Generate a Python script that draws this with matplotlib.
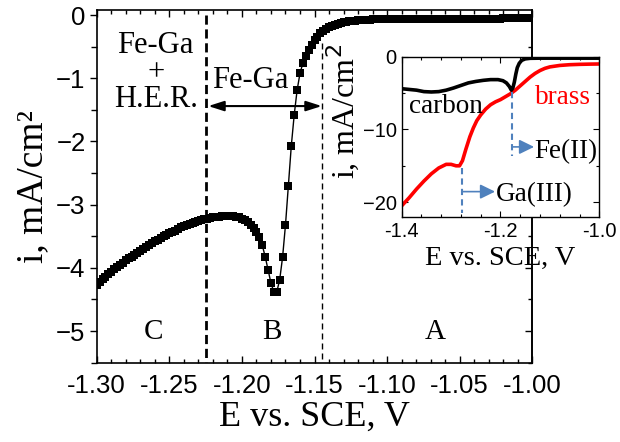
import matplotlib
matplotlib.use("Agg")
import matplotlib.pyplot as plt
from matplotlib.ticker import MultipleLocator, FormatStrFormatter

# ---------------- data (main polarization curve) ----------------
E_main = [
    -1.300, -1.298, -1.296, -1.294, -1.292, -1.290, -1.288, -1.286, -1.284, -1.282,
    -1.280, -1.278, -1.276, -1.274, -1.272, -1.270, -1.268, -1.266, -1.264, -1.262,
    -1.260, -1.258, -1.256, -1.254, -1.252, -1.250, -1.248, -1.246, -1.244, -1.242,
    -1.240, -1.238, -1.236, -1.234, -1.232, -1.230, -1.228, -1.226, -1.224, -1.222,
    -1.220, -1.218, -1.216, -1.214, -1.212, -1.210, -1.208, -1.206, -1.204, -1.202,
    -1.200, -1.198, -1.196, -1.194, -1.192, -1.190, -1.188, -1.186, -1.184, -1.182,
    -1.180, -1.178, -1.176, -1.174, -1.172, -1.170, -1.168, -1.166, -1.164, -1.162,
    -1.160, -1.158, -1.156, -1.154, -1.152, -1.150, -1.148, -1.146, -1.144, -1.142,
    -1.140, -1.138, -1.136, -1.134, -1.132, -1.130, -1.128, -1.126, -1.124, -1.122,
    -1.120, -1.118, -1.116, -1.114, -1.112, -1.110, -1.108, -1.106, -1.104, -1.102,
    -1.100, -1.098, -1.096, -1.094, -1.092, -1.090, -1.088, -1.086, -1.084, -1.082,
    -1.080, -1.078, -1.076, -1.074, -1.072, -1.070, -1.068, -1.066, -1.064, -1.062,
    -1.060, -1.058, -1.056, -1.054, -1.052, -1.050, -1.048, -1.046, -1.044, -1.042,
    -1.040, -1.038, -1.036, -1.034, -1.032, -1.030, -1.028, -1.026, -1.024, -1.022,
    -1.020, -1.018, -1.016, -1.014, -1.012, -1.010, -1.008, -1.006, -1.004, -1.002,
    -1.000,
]
i_main = [
    -4.27, -4.22, -4.18, -4.14, -4.10, -4.06, -4.02, -3.99, -3.95, -3.92,
    -3.88, -3.85, -3.82, -3.79, -3.76, -3.73, -3.70, -3.67, -3.64, -3.61,
    -3.58, -3.56, -3.53, -3.50, -3.48, -3.45, -3.43, -3.41, -3.38, -3.36,
    -3.34, -3.32, -3.30, -3.29, -3.27, -3.26, -3.24, -3.23, -3.22, -3.21,
    -3.20, -3.19, -3.19, -3.18, -3.18, -3.18, -3.18, -3.18, -3.19, -3.20,
    -3.22, -3.25, -3.28, -3.32, -3.37, -3.43, -3.51, -3.64, -3.82, -4.03,
    -4.24, -4.38, -4.38, -4.19, -3.83, -3.32, -2.70, -2.07, -1.58, -1.19,
    -0.92, -0.76, -0.64, -0.55, -0.47, -0.40, -0.34, -0.29, -0.25, -0.22,
    -0.19, -0.17, -0.15, -0.135, -0.125, -0.115, -0.105, -0.10, -0.095, -0.09,
    -0.085, -0.08, -0.08, -0.075, -0.075, -0.07, -0.07, -0.07, -0.065, -0.065,
    -0.065, -0.065, -0.06, -0.06, -0.06, -0.06, -0.06, -0.06, -0.06, -0.06,
    -0.06, -0.06, -0.06, -0.06, -0.06, -0.06, -0.06, -0.06, -0.06, -0.06,
    -0.055, -0.055, -0.055, -0.055, -0.055, -0.055, -0.055, -0.055, -0.055, -0.055,
    -0.055, -0.055, -0.055, -0.055, -0.055, -0.055, -0.055, -0.055, -0.055, -0.055,
    -0.05, -0.05, -0.05, -0.05, -0.05, -0.05, -0.05, -0.05, -0.05, -0.05,
    -0.05,
]
region_labels = ["C", "B", "A"]
region_x = [-1.261, -1.1795, -1.067]
boundaries = [-1.225, -1.145]

# ---------------- data (inset) ----------------
E_carbon = [-1.400, -1.385, -1.370, -1.355, -1.340, -1.325, -1.310, -1.295, -1.280,
            -1.265, -1.250, -1.235, -1.220, -1.205, -1.195, -1.188, -1.182, -1.178,
            -1.175, -1.172, -1.169, -1.166, -1.162, -1.157, -1.150, -1.140, -1.120,
            -1.100, -1.000]
i_carbon = [-4.4, -4.5, -4.6, -4.8, -4.85, -4.8, -4.6, -4.3, -3.95,
            -3.6, -3.4, -3.25, -3.15, -3.15, -3.3, -3.6, -4.1, -4.6,
            -4.3, -3.5, -2.4, -1.5, -0.9, -0.5, -0.3, -0.22, -0.2,
            -0.2, -0.2]
E_brass = [-1.400, -1.385, -1.370, -1.355, -1.340, -1.325, -1.310, -1.300, -1.290,
           -1.283, -1.277, -1.270, -1.262, -1.255, -1.248, -1.240, -1.230, -1.220,
           -1.210, -1.200, -1.190, -1.180, -1.170, -1.160, -1.150, -1.140, -1.130,
           -1.120, -1.110, -1.100, -1.080, -1.060, -1.040, -1.020, -1.000]
i_brass = [-20.5, -19.4, -18.2, -17.1, -16.1, -15.3, -14.8, -14.8, -15.0,
           -15.0, -14.3, -12.7, -11.0, -9.8, -8.8, -8.0, -7.2, -6.6,
           -6.2, -5.9, -5.5, -5.1, -4.6, -4.0, -3.4, -2.8, -2.3,
           -1.9, -1.6, -1.4, -1.2, -1.1, -1.05, -1.02, -1.0]

SERIF = ["Liberation Serif", "DejaVu Serif"]
SANS = ["Liberation Sans", "DejaVu Sans"]
BLUE = "#4F81BD"

plt.rcParams["font.family"] = SANS

fig = plt.figure(figsize=(6.2, 4.42), dpi=100)
ax = fig.add_axes([0.156, 0.1794, 0.7026, 0.798])

ax.plot(E_main, i_main, "-s", color="black", ms=5.4, lw=1.0, mew=0)
ax.set_xlim(-1.30, -1.00)
ax.set_ylim(-5.5, 0.08)

ax.xaxis.set_major_locator(MultipleLocator(0.05))
ax.xaxis.set_minor_locator(MultipleLocator(0.01))
ax.xaxis.set_major_formatter(FormatStrFormatter("%.2f"))
ax.yaxis.set_major_locator(MultipleLocator(1))
ax.yaxis.set_minor_locator(MultipleLocator(0.5))
ax.tick_params(axis="x", which="both", direction="in", top=True, labelsize=18.5, pad=8)
ax.tick_params(axis="x", which="major", length=5, width=1)
ax.tick_params(axis="x", which="minor", length=3, width=1)
ax.tick_params(axis="y", which="both", direction="out", labelsize=18.5, pad=3)
ax.tick_params(axis="y", which="major", length=5, width=1)
ax.tick_params(axis="y", which="minor", length=4, width=1)
for s in ax.spines.values():
    s.set_linewidth(1.2)

sec = ax.secondary_yaxis("right")
sec.yaxis.set_major_locator(MultipleLocator(1))
sec.yaxis.set_minor_locator(MultipleLocator(0.5))
sec.tick_params(which="both", direction="in", labelright=False, width=1)
sec.tick_params(which="major", length=5)
sec.tick_params(which="minor", length=3)
sec.spines["right"].set_linewidth(1.2)

ax.set_xlabel("E vs. SCE, V", fontsize=26, family=SERIF, labelpad=2)
ax.set_ylabel("i, mA/cm\u00b2", fontsize=27, family=SERIF, labelpad=4)

# boundaries
ax.plot([boundaries[0], boundaries[0]], [0.0, -5.5], color="black", lw=2,
        dashes=(3.3, 1.7))
ax.plot([boundaries[1], boundaries[1]], [-0.45, -5.5], color="black", lw=1,
        dashes=(4.3, 2.9))

# double arrow
ax.annotate("", xy=(boundaries[1], -1.44), xytext=(boundaries[0] + 0.0018, -1.44),
            arrowprops=dict(arrowstyle="<|-|>,head_length=0.47,head_width=0.15",
                            mutation_scale=20, color="black", lw=1.5,
                            shrinkA=0, shrinkB=0))
ax.text(-1.1945, -1.16, "Fe-Ga", fontsize=22, family=SERIF, ha="center", va="baseline")
ax.text(-1.2594, -0.605, "Fe-Ga", fontsize=22, family=SERIF, ha="center", va="baseline")
ax.text(-1.2594, -1.03, "+", fontsize=22, family=SERIF, ha="center", va="baseline")
ax.text(-1.2594, -1.458, "H.E.R.", fontsize=22, family=SERIF, ha="center", va="baseline")

for lab, xx in zip(region_labels, region_x):
    ax.text(xx, -5.12, lab, fontsize=21, family=SERIF, ha="center", va="baseline")

# ---------------- inset ----------------
ins = fig.add_axes([0.6479, 0.5097, 0.3187, 0.362])
ins.set_facecolor("white")
ins.plot(E_brass, i_brass, color="red", lw=2.6)
ins.plot(E_carbon, i_carbon, color="black", lw=2.6)
ins.set_xlim(-1.4, -1.0)
ins.set_ylim(-22, 0)
ins.xaxis.set_major_locator(MultipleLocator(0.2))
ins.xaxis.set_minor_locator(MultipleLocator(0.04))
ins.xaxis.set_major_formatter(FormatStrFormatter("%.1f"))
ins.yaxis.set_major_locator(MultipleLocator(10))
ins.yaxis.set_minor_locator(MultipleLocator(5))
ins.tick_params(which="both", direction="in", top=True, right=True,
                labelsize=14.5, width=0.8)
ins.tick_params(which="major", length=4)
ins.tick_params(which="minor", length=2.5)
for s in ins.spines.values():
    s.set_linewidth(1.0)
ins.set_xlabel("E vs. SCE, V", fontsize=20.5, family=SERIF, labelpad=4)
ins.set_ylabel("i, mA/cm$^2$", fontsize=23, family=SERIF)
ins.yaxis.set_label_coords(-0.20, 0.66)

ins.text(-1.386, -6.9, "carbon", fontsize=19.5, family=SERIF, color="black",
         ha="left", va="center")
ins.text(-1.13, -5.6, "brass", fontsize=19.5, family=SERIF, color="red",
         ha="left", va="center")

# Fe(II) marker
ins.plot([-1.176, -1.176], [-4.9, -13.6], color=BLUE, lw=1.5, dashes=(3, 2))
ins.annotate("", xy=(-1.132, -12.4), xytext=(-1.176, -12.4),
             arrowprops=dict(arrowstyle="-|>,head_length=0.45,head_width=0.22",
                             mutation_scale=20, color=BLUE, lw=1.2,
                             shrinkA=0, shrinkB=0))
ins.text(-1.131, -13.1, "Fe(II)", fontsize=19.5, family=SERIF, ha="left", va="center")

# Ga(III) marker
ins.plot([-1.277, -1.277], [-15.3, -21.5], color=BLUE, lw=1.5, dashes=(3, 2))
ins.annotate("", xy=(-1.211, -18.55), xytext=(-1.277, -18.55),
             arrowprops=dict(arrowstyle="-|>,head_length=0.45,head_width=0.22",
                             mutation_scale=20, color=BLUE, lw=1.2,
                             shrinkA=0, shrinkB=0))
ins.text(-1.209, -19.0, "Ga(III)", fontsize=19.5, family=SERIF, ha="left", va="center")

fig.savefig("out.png", dpi=100)
